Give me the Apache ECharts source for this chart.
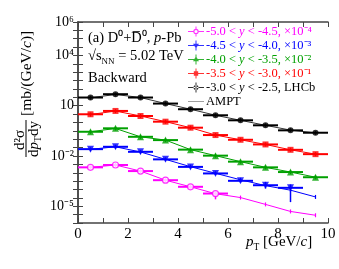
<!DOCTYPE html>
<html><head><meta charset="utf-8">
<script src="https://cdn.jsdelivr.net/npm/echarts@6/dist/echarts.min.js"></script>
<style>html,body{margin:0;padding:0;background:#fff}#c{width:339px;height:269px}</style>
</head><body><div id="c"></div>
<script>
// bin centres (pT, GeV/c)
const pt = [0.5, 1.5, 2.5, 3.5, 4.5, 5.5, 6.5, 7.5, 8.5, 9.5];
// measured values as plotted (already scaled)
const lhcbK = [31, 49, 31, 13.5, 6.2, 2.7, 1.35, 0.68, 0.34, 0.245];
const lhcbR = [3.1, 4.9, 2.45, 1.12, 0.49, 0.178, 0.093, 0.049, 0.0234, 0.0129];
const lhcbG = [0.28, 0.45, 0.14, 0.089, 0.024, 0.0105, 0.0046, 0.0021, 0.0011, 0.00054];
const lhcbB = [0.0257, 0.0355, 0.0178, 0.0063, 0.00224, 0.00091, 0.00033, 0.00018, 0.000126];
const lhcbM = [0.0021, 0.0029, 0.00126, 0.00036, 0.000145, 0.0000575];
// relative uncertainties (up / down)
const errUpK = [0.06, 0.06, 0.06, 0.06, 0.06, 0.06, 0.06, 0.06, 0.06, 0.06];
const errUpR = [0.07, 0.07, 0.07, 0.07, 0.07, 0.07, 0.07, 0.07, 0.07, 0.08];
const errUpG = [0.08, 0.08, 0.08, 0.08, 0.08, 0.08, 0.08, 0.08, 0.1, 0.1];
const errUpB = [0.08, 0.08, 0.08, 0.1, 0.1, 0.12, 0.2, 0.58, 0.59];
const errDnB = [0.08, 0.08, 0.08, 0.1, 0.1, 0.12, 0.2, 0.37, 0.86];
const errUpM = [0.08, 0.08, 0.08, 0.1, 0.2, 0.25];
const errDnM = [0.08, 0.08, 0.08, 0.1, 0.2, 0.55];
// AMPT curves
const amptK = [30, 47, 31, 13.5, 6.2, 2.7, 1.35, 0.68, 0.35, 0.24];
const amptR = [3.0, 4.8, 2.45, 1.12, 0.49, 0.178, 0.093, 0.049, 0.0234, 0.0129];
const amptG = [0.28, 0.44, 0.14, 0.089, 0.024, 0.0105, 0.0046, 0.0021, 0.0011, 0.00054];
const amptB = [0.025, 0.0355, 0.0174, 0.0063, 0.0023, 0.00093, 0.00038, 0.00017, 0.000091, 0.000036];
const amptM = [0.0021, 0.0029, 0.00126, 0.00036, 0.000145, 0.000056, 0.000033, 0.0000129, 0.0000049, 0.0000029];
const names = ['-5.0 < y < -4.5, ×10⁻⁴', '-4.5 < y < -4.0, ×10⁻³', '-4.0 < y < -3.5, ×10⁻²', '-3.5 < y < -3.0, ×10⁻¹', '-3.0 < y < -2.5, LHCb'];
const yLabelExp = [6, 4, 1, -2, -5];
const xTicks = [0, 2, 4, 6, 8, 10];

const FONT = 'Liberation Serif';
const cols = {M: '#ff00ff', B: '#0000ff', G: '#00a000', R: '#ff0000', K: '#000000'};
const supMap = {'-': '⁻', '0': '⁰', '1': '¹', '2': '²', '3': '³', '4': '⁴', '5': '⁵', '6': '⁶', '7': '⁷', '8': '⁸', '9': '⁹'};
function sup(n) { return String(n).split('').map(c => supMap[c]).join(''); }

function errSeries(key, vals, up, dn) {
  return {
    type: 'custom', name: 'err' + key, silent: true, z: 3,
    data: vals.map((v, i) => [pt[i], v, v * (1 - (dn || up)[i]), v * (1 + up[i])]),
    encode: {x: 0, y: 1},
    renderItem: function (params, api) {
      const x = api.value(0), y = api.value(1);
      const a = api.coord([x - 0.5, y]), b = api.coord([x + 0.5, y]);
      const lo = api.coord([x, api.value(2)]), hi = api.coord([x, api.value(3)]);
      return {type: 'group', children: [
        {type: 'line', shape: {x1: a[0], y1: a[1], x2: b[0], y2: b[1]}, style: {stroke: cols[key], lineWidth: 2}},
        {type: 'line', shape: {x1: lo[0], y1: lo[1], x2: hi[0], y2: hi[1]}, style: {stroke: cols[key], lineWidth: 1.5}}
      ]};
    }
  };
}
function markSeries(key, name, vals, symbol, rot, open) {
  return {
    type: 'scatter', name: name, z: 5, symbol: symbol, symbolRotate: rot || 0,
    symbolSize: symbol === 'triangle' ? 7 : 6,
    itemStyle: open ? {color: '#fff', borderColor: cols[key], borderWidth: 1.2} : {color: cols[key]},
    data: vals.map((v, i) => [pt[i], v])
  };
}
function amptSeries(key, vals) {
  const c = key === 'K' ? '#333' : cols[key];
  return {
    type: 'line', name: 'AMPT ' + key, z: 2, symbol: 'rect', symbolSize: [1.2, 4], showSymbol: true,
    lineStyle: {color: c, width: 1}, itemStyle: {color: c},
    data: vals.map((v, i) => [pt[i], v])
  };
}

const bars = 'M0,4.5h16v1h-16z M7.5,0h1v10h-1z ';
const icons = {
  M: 'path://M0,4.5h5.3v1h-5.3z M10.7,4.5h5.3v1h-5.3z M7.5,0h1v2.3h-1z M7.5,7.7h1v2.3h-1z M5.3,5a2.7,2.7 0 1,0 5.4,0a2.7,2.7 0 1,0 -5.4,0z M6.4,5a1.6,1.6 0 1,1 3.2,0a1.6,1.6 0 1,1 -3.2,0z',
  B: 'path://' + bars + 'M5,3.2L11,3.2L8,8z',
  G: 'path://' + bars + 'M8,1.8L11,6.8L5,6.8z',
  R: 'path://' + bars + 'M5.8,2.8h4.4v4.4h-4.4z',
  K: 'path://' + bars + 'M5.5,5a2.5,2.5 0 1,0 5,0a2.5,2.5 0 1,0 -5,0z',
  A: 'path://M0,0h1v0.1h-1z M0,4.4h16v1.2h-16z M15,9.9h1v0.1h-1z'
};
const order = ['M', 'B', 'G', 'R', 'K'];

const chart = echarts.init(document.getElementById('c'), null, {renderer: 'canvas'});
const series = [];
series.push({type: 'scatter', name: 'AMPT', data: [[20, 1]], symbolSize: 0, itemStyle: {color: '#888'}});
series.push(amptSeries('M', amptM), amptSeries('B', amptB), amptSeries('G', amptG), amptSeries('R', amptR), amptSeries('K', amptK));
series.push(errSeries('M', lhcbM, errUpM, errDnM), errSeries('B', lhcbB, errUpB, errDnB), errSeries('G', lhcbG, errUpG), errSeries('R', lhcbR, errUpR), errSeries('K', lhcbK, errUpK));
series.push(markSeries('M', names[0], lhcbM, 'circle', 0, true));
series.push(markSeries('B', names[1], lhcbB, 'triangle', 180));
series.push(markSeries('G', names[2], lhcbG, 'triangle'));
series.push(markSeries('R', names[3], lhcbR, 'rect'));
series.push(markSeries('K', names[4], lhcbK, 'circle'));

const legendData = order.map((k, i) => ({name: names[i], icon: icons[k], textStyle: {color: cols[k]},
  itemStyle: {color: cols[k], borderWidth: 0}}));
legendData.push({name: 'AMPT', icon: icons.A, textStyle: {color: '#000'}, itemStyle: {color: '#888', borderWidth: 0}});
const richLeg = {};
order.forEach(k => { richLeg['i' + k] = {fontFamily: FONT, fontStyle: 'italic', fontSize: 12.5, color: cols[k]}; });

const axisLineSt = {show: true, lineStyle: {color: '#444', width: 1.5}};
const yAxisBase = {
  type: 'log', logBase: 10, min: 1e-6, max: 1e6, interval: 0.5,
  axisLine: axisLineSt, splitLine: {show: false},
  axisTick: {show: true, inside: true, length: 5, lineStyle: {color: '#444'}}
};
const xAxisBase = {
  type: 'value', min: 0, max: 10, interval: 1,
  axisLine: axisLineSt, splitLine: {show: false},
  axisTick: {show: true, inside: true, length: 5, lineStyle: {color: '#444'}}
};

chart.setOption({
  animation: false,
  backgroundColor: '#fff',
  grid: {left: 78, right: 11, top: 22, bottom: 46},
  xAxis: [
    Object.assign({}, xAxisBase, {position: 'bottom', axisLabel: {
      interval: 0, margin: 4, fontFamily: FONT, fontSize: 15, color: '#000',
      formatter: v => xTicks.indexOf(v) >= 0 ? String(v) : ''}}),
    Object.assign({}, xAxisBase, {position: 'top', axisLabel: {show: false}})
  ],
  yAxis: [
    Object.assign({}, yAxisBase, {position: 'left', axisLabel: {
      interval: 0, margin: 4, fontFamily: FONT, fontSize: 14, color: '#000',
      formatter: function (v) {
        const e = Math.round(Math.log10(v));
        if (Math.abs(Math.log10(v) - e) > 0.01 || yLabelExp.indexOf(e) < 0) return '';
        return e === 1 ? '10' : '10' + sup(e);
      }}}),
    Object.assign({}, yAxisBase, {position: 'right', axisLabel: {show: false}})
  ],
  legend: {
    orient: 'vertical', left: 188, top: 25, padding: 0, itemGap: 1,
    itemWidth: 16, itemHeight: 10, selectedMode: false,
    data: legendData,
    textStyle: {fontFamily: FONT, fontSize: 12.5, padding: [0, 0, 0, -3], rich: richLeg},
    formatter: function (name) {
      const i = names.indexOf(name);
      if (i < 0) return name;
      return name.replace('< y <', '< {i' + order[i] + '|y} <');
    }
  },
  graphic: [
    {type: 'text', left: 88, top: 31, style: {
      text: '(a) D⁰+D\u0305⁰, {i|p}-Pb', fontFamily: FONT, fontSize: 14.5, fill: '#000',
      rich: {i: {fontFamily: FONT, fontStyle: 'italic', fontSize: 14.5}}}},
    {type: 'text', left: 88, top: 49, style: {
      text: '{n|√s}{s|NN}{n| = 5.02 TeV}', fontFamily: FONT, fontSize: 14.5, fill: '#000',
      rich: {n: {fontFamily: FONT, fontSize: 14.5, lineHeight: 19},
             s: {fontFamily: FONT, fontSize: 9, verticalAlign: 'bottom', lineHeight: 9}}}},
    {type: 'text', left: 88, top: 71, style: {text: 'Backward', fontFamily: FONT, fontSize: 14.5, fill: '#000'}},
    {type: 'text', left: 246, top: 235, style: {
      text: '{i|p}{s|T}{n| [GeV/}{i|c}{n|]}', fontFamily: FONT, fontSize: 15, fill: '#000',
      rich: {n: {fontFamily: FONT, fontSize: 15, lineHeight: 19},
             i: {fontFamily: FONT, fontStyle: 'italic', fontSize: 15, lineHeight: 19},
             s: {fontFamily: FONT, fontSize: 9.5, verticalAlign: 'bottom', lineHeight: 10}}}},
    {type: 'group', x: 26, y: 158, rotation: Math.PI / 2, children: [
      {type: 'text', x: 18, y: -6, style: {text: 'd²σ', fontFamily: FONT, fontSize: 15, fill: '#000', align: 'center', verticalAlign: 'middle'}},
      {type: 'line', shape: {x1: 1, y1: 0, x2: 38, y2: 0}, style: {stroke: '#000', lineWidth: 1}},
      {type: 'text', x: 19, y: 8, style: {
        text: '{n|d}{i|p}{s|T}{n|dy}', fontFamily: FONT, fontSize: 15, fill: '#000', align: 'center', verticalAlign: 'middle',
        rich: {n: {fontFamily: FONT, fontSize: 15, lineHeight: 18},
               i: {fontFamily: FONT, fontStyle: 'italic', fontSize: 15, lineHeight: 18},
               s: {fontFamily: FONT, fontSize: 9.5, verticalAlign: 'bottom', lineHeight: 9}}}},
      {type: 'text', x: 42, y: 1, style: {
        text: '{n|[mb/(GeV/}{i|c}{n|)]}', fontFamily: FONT, fontSize: 15.5, fill: '#000', align: 'left', verticalAlign: 'middle',
        rich: {n: {fontFamily: FONT, fontSize: 15.5}, i: {fontFamily: FONT, fontStyle: 'italic', fontSize: 15.5}}}}
    ]}
  ],
  series: series
});
</script></body></html>
